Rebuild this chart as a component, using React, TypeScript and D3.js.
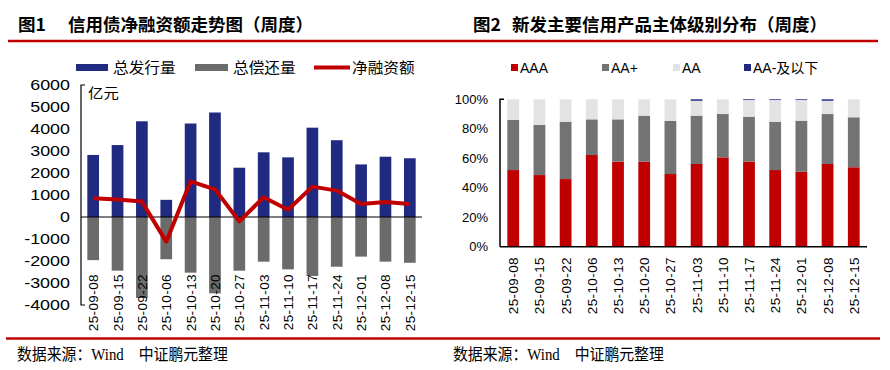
import * as d3 from "d3";

// weekly dates shared by both charts
const dates = ["25-09-08", "25-09-15", "25-09-22", "25-10-06", "25-10-13", "25-10-20", "25-10-27", "25-11-03", "25-11-10", "25-11-17", "25-11-24", "25-12-01", "25-12-08", "25-12-15"];

// fig 1 (亿元)
const issuance = [2820, 3270, 4350, 780, 4250, 4750, 2240, 2940, 2710, 4060, 3490, 2390, 2740, 2670];
const repayment = [-1960, -2440, -3680, -1920, -2530, -3470, -2440, -2030, -2380, -2680, -2260, -1800, -2030, -2080];
const netFinancing = [850, 800, 700, -1120, 1620, 1260, -200, 900, 330, 1380, 1200, 590, 680, 590];
const leftTicks = [-4000, -3000, -2000, -1000, 0, 1000, 2000, 3000, 4000, 5000, 6000];

// fig 2 (%)
const aaa = [52.0, 48.6, 45.9, 62.2, 57.7, 57.7, 49.3, 56.1, 60.6, 57.7, 52.0, 50.9, 56.1, 53.9];
const aaPlus = [34.0, 34.0, 38.9, 24.2, 28.7, 31.2, 36.0, 32.8, 29.4, 30.5, 32.8, 34.6, 33.9, 33.9];
const aa = [14.0, 17.4, 15.2, 13.6, 13.6, 11.1, 14.7, 10.1, 10.0, 11.3, 14.7, 14.0, 9.0, 12.2];
const aaMinus = [0, 0, 0, 0, 0, 0, 0, 1.0, 0, 0.5, 0.5, 0.5, 1.0, 0];
const rightTicks = [0, 20, 40, 60, 80, 100];

const RED = "#c00000";
const BLUE = "#1f2a80";
const GRAY = "#6b6b6b";
const SANS = "'Liberation Sans', 'Noto Sans CJK SC', sans-serif";
const CJK = "'Noto Sans CJK SC', sans-serif";
const SERIF = "'Liberation Serif', 'Noto Sans CJK SC', serif";

function LeftChart() {
  const x = d3.scaleBand().domain(dates).range([81, 422]).paddingInner(0.52).paddingOuter(0.26);
  const y = d3.scaleLinear().domain([-4000, 6000]).range([305, 85]);
  const line = d3
    .line<number>()
    .x((_, i) => x(dates[i])! + x.bandwidth() / 2)
    .y((d) => y(d));

  return (
    <g>
      {dates.map((d, i) => (
        <rect key={"i" + d} x={x(d)} width={x.bandwidth()} y={y(issuance[i])} height={y(0) - y(issuance[i])} fill={BLUE} />
      ))}
      {dates.map((d, i) => (
        <rect key={"r" + d} x={x(d)} width={x.bandwidth()} y={y(0)} height={y(repayment[i]) - y(0)} fill={GRAY} />
      ))}
      <line x1={81} x2={422} y1={y(0)} y2={y(0)} stroke="#000" strokeWidth={1} />
      <path d={line(netFinancing)!} fill="none" stroke={RED} strokeWidth={4} strokeLinejoin="round" />
      {/* y axis */}
      <path d={`M85,${y(6000)}H81V${y(-4000)}H85`} fill="none" stroke="#000" strokeWidth={1.2} />
      {leftTicks.map((t) => (
        <text key={t} transform={`translate(70,${y(t)}) scale(1.28,1)`} textAnchor="end" dy="0.36em" fontSize={14} fontFamily={SANS} fill="#000">
          {t}
        </text>
      ))}
      <text transform={`translate(88,98) scale(1.1,1)`} fontSize={14} fontFamily={CJK} fill="#000">亿元</text>
      {dates.map((d) => (
        <text key={"l" + d} transform={`translate(${x(d)! + x.bandwidth() / 2 + 5},274) rotate(-90)`} textAnchor="end" fontSize={13.5} fontFamily={SANS} letterSpacing={0.4} fill="#000">
          {d}
        </text>
      ))}
      {/* legend */}
      <rect x={76} y={64} width={32} height={7} fill={BLUE} />
      <text transform="translate(113,72.5) scale(1.08,1)" fontSize={14.5} fontFamily={CJK} fill="#000">总发行量</text>
      <rect x={195} y={64} width={33} height={7} fill={GRAY} />
      <text transform="translate(233,72.5) scale(1.08,1)" fontSize={14.5} fontFamily={CJK} fill="#000">总偿还量</text>
      <line x1={314} x2={350} y1={67.5} y2={67.5} stroke={RED} strokeWidth={4} />
      <text transform="translate(352,72.5) scale(1.08,1)" fontSize={14.5} fontFamily={CJK} fill="#000">净融资额</text>
    </g>
  );
}

function RightChart() {
  const x = d3.scaleBand().domain(dates).range([500, 867]).paddingInner(0.55).paddingOuter(0.28);
  const y = d3.scaleLinear().domain([0, 100]).range([246.7, 99.3]);
  const rows = dates.map((d, i) => ({ date: d, AAA: aaa[i], "AA+": aaPlus[i], AA: aa[i], "AA-及以下": aaMinus[i] }));
  const keys = ["AAA", "AA+", "AA", "AA-及以下"];
  const colors: Record<string, string> = { AAA: RED, "AA+": "#737373", AA: "#e3e3e3", "AA-及以下": BLUE };
  const series = d3.stack<any>().keys(keys)(rows);
  const legendX = [511, 602, 673, 744];

  return (
    <g>
      {series.map((s) => (
        <g key={s.key} fill={colors[s.key]}>
          {s.map((p) => (
            <rect key={p.data.date} x={x(p.data.date)} width={x.bandwidth()} y={y(p[1])} height={Math.max(0, y(p[0]) - y(p[1]))} />
          ))}
        </g>
      ))}
      <line x1={500} x2={867} y1={y(0)} y2={y(0)} stroke="#000" strokeWidth={1.5} />
      <path d={`M504,${y(100)}H500V${y(0)}`} fill="none" stroke="#000" strokeWidth={1.5} />
      {rightTicks.map((t) => (
        <text key={t} x={488} y={y(t)} textAnchor="end" dy="0.36em" fontSize={13} fontFamily={SANS} fill="#000">
          {t}%
        </text>
      ))}
      {dates.map((d) => (
        <text key={"l" + d} transform={`translate(${x(d)! + x.bandwidth() / 2 + 5},257) rotate(-90)`} textAnchor="end" fontSize={13.5} fontFamily={SANS} letterSpacing={0.4} fill="#000">
          {d}
        </text>
      ))}
      {keys.map((k, i) => (
        <g key={k}>
          <rect x={legendX[i]} y={64} width={7} height={7} fill={colors[k]} />
          <text x={legendX[i] + 9} y={72.5} fontSize={14} fontFamily={SANS} fill="#000">{k}</text>
        </g>
      ))}
    </g>
  );
}

function Source({ x }: { x: number }) {
  return (
    <text transform={`translate(${x},360) scale(0.93,1)`} fontSize={16} fontFamily={SERIF} fill="#000">
      数据来源：Wind<tspan dx={16}>中证鹏元整理</tspan>
    </text>
  );
}

export default function App() {
  return (
    <svg width={890} height={370} style={{ position: "absolute", left: 0, top: 0, background: "#fff" }}>
      <rect width={890} height={370} fill="#fff" />
      <text x={18} y={31} fontSize={17.5} fontWeight="bold" fontFamily={CJK} fill="#000">
        图1<tspan x={68}>信用债净融资额走势图（周度）</tspan>
      </text>
      <text x={473} y={31} fontSize={17.5} fontWeight="bold" fontFamily={CJK} fill="#000">
        图2<tspan x={512}>新发主要信用产品主体级别分布（周度）</tspan>
      </text>
      <line x1={8} x2={878} y1={41} y2={41} stroke={RED} strokeWidth={2.5} />
      <LeftChart />
      <RightChart />
      <line x1={6} x2={880} y1={338.5} y2={338.5} stroke={RED} strokeWidth={2.5} />
      <Source x={17} />
      <Source x={453} />
    </svg>
  );
}
